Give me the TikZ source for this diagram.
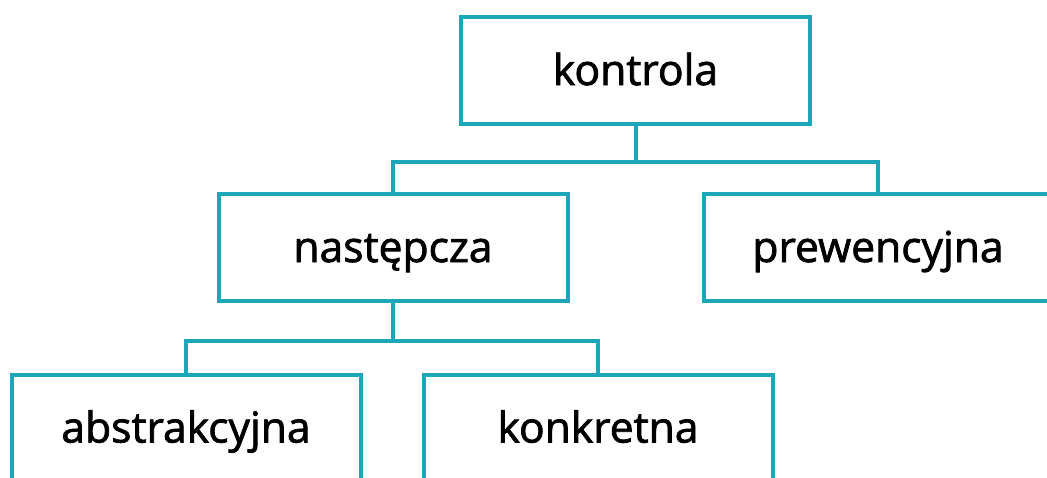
\documentclass[tikz,border=0pt]{standalone}
\usepackage{fontspec}
\setmainfont{Open Sans}[FakeBold=1.8]
\usetikzlibrary{positioning}
\definecolor{boxcol}{HTML}{1BA6B9}
\tikzset{
 box/.style={draw=boxcol, line width=2pt, fill=white, minimum width=174.5pt, minimum height=53.5pt, inner sep=0pt, text height=15pt, text depth=0.5pt, font=\fontsize{21.3}{25}\selectfont},
 link/.style={draw=boxcol, line width=2pt}
}

\begin{document}
\begin{tikzpicture}[x=0.5pt,y=-0.5pt]
\useasboundingbox (0,0) rectangle (1047,477);
\clip (0,0) rectangle (1047,477);
\node[box] (kon) at (635.5,70.5) {kontrola};
\node[box] (nas) at (393,247.5) {następcza};
\node[box] (pre) at (878,247.5) {prewencyjna};
\node[box] (abs) at (186,428) {abstrakcyjna};
\node[box] (kre) at (598,428) {konkretna};
\draw[link] (kon.south) --++(0,36) coordinate (kon1) -| (nas.north);
\draw[link] (kon1) -| (pre.north);
\draw[link] (nas.south) --++(0,38) coordinate (nas1) -| (abs.north);
\draw[link] (nas1) -| (kre.north);
\end{tikzpicture}
\end{document}
